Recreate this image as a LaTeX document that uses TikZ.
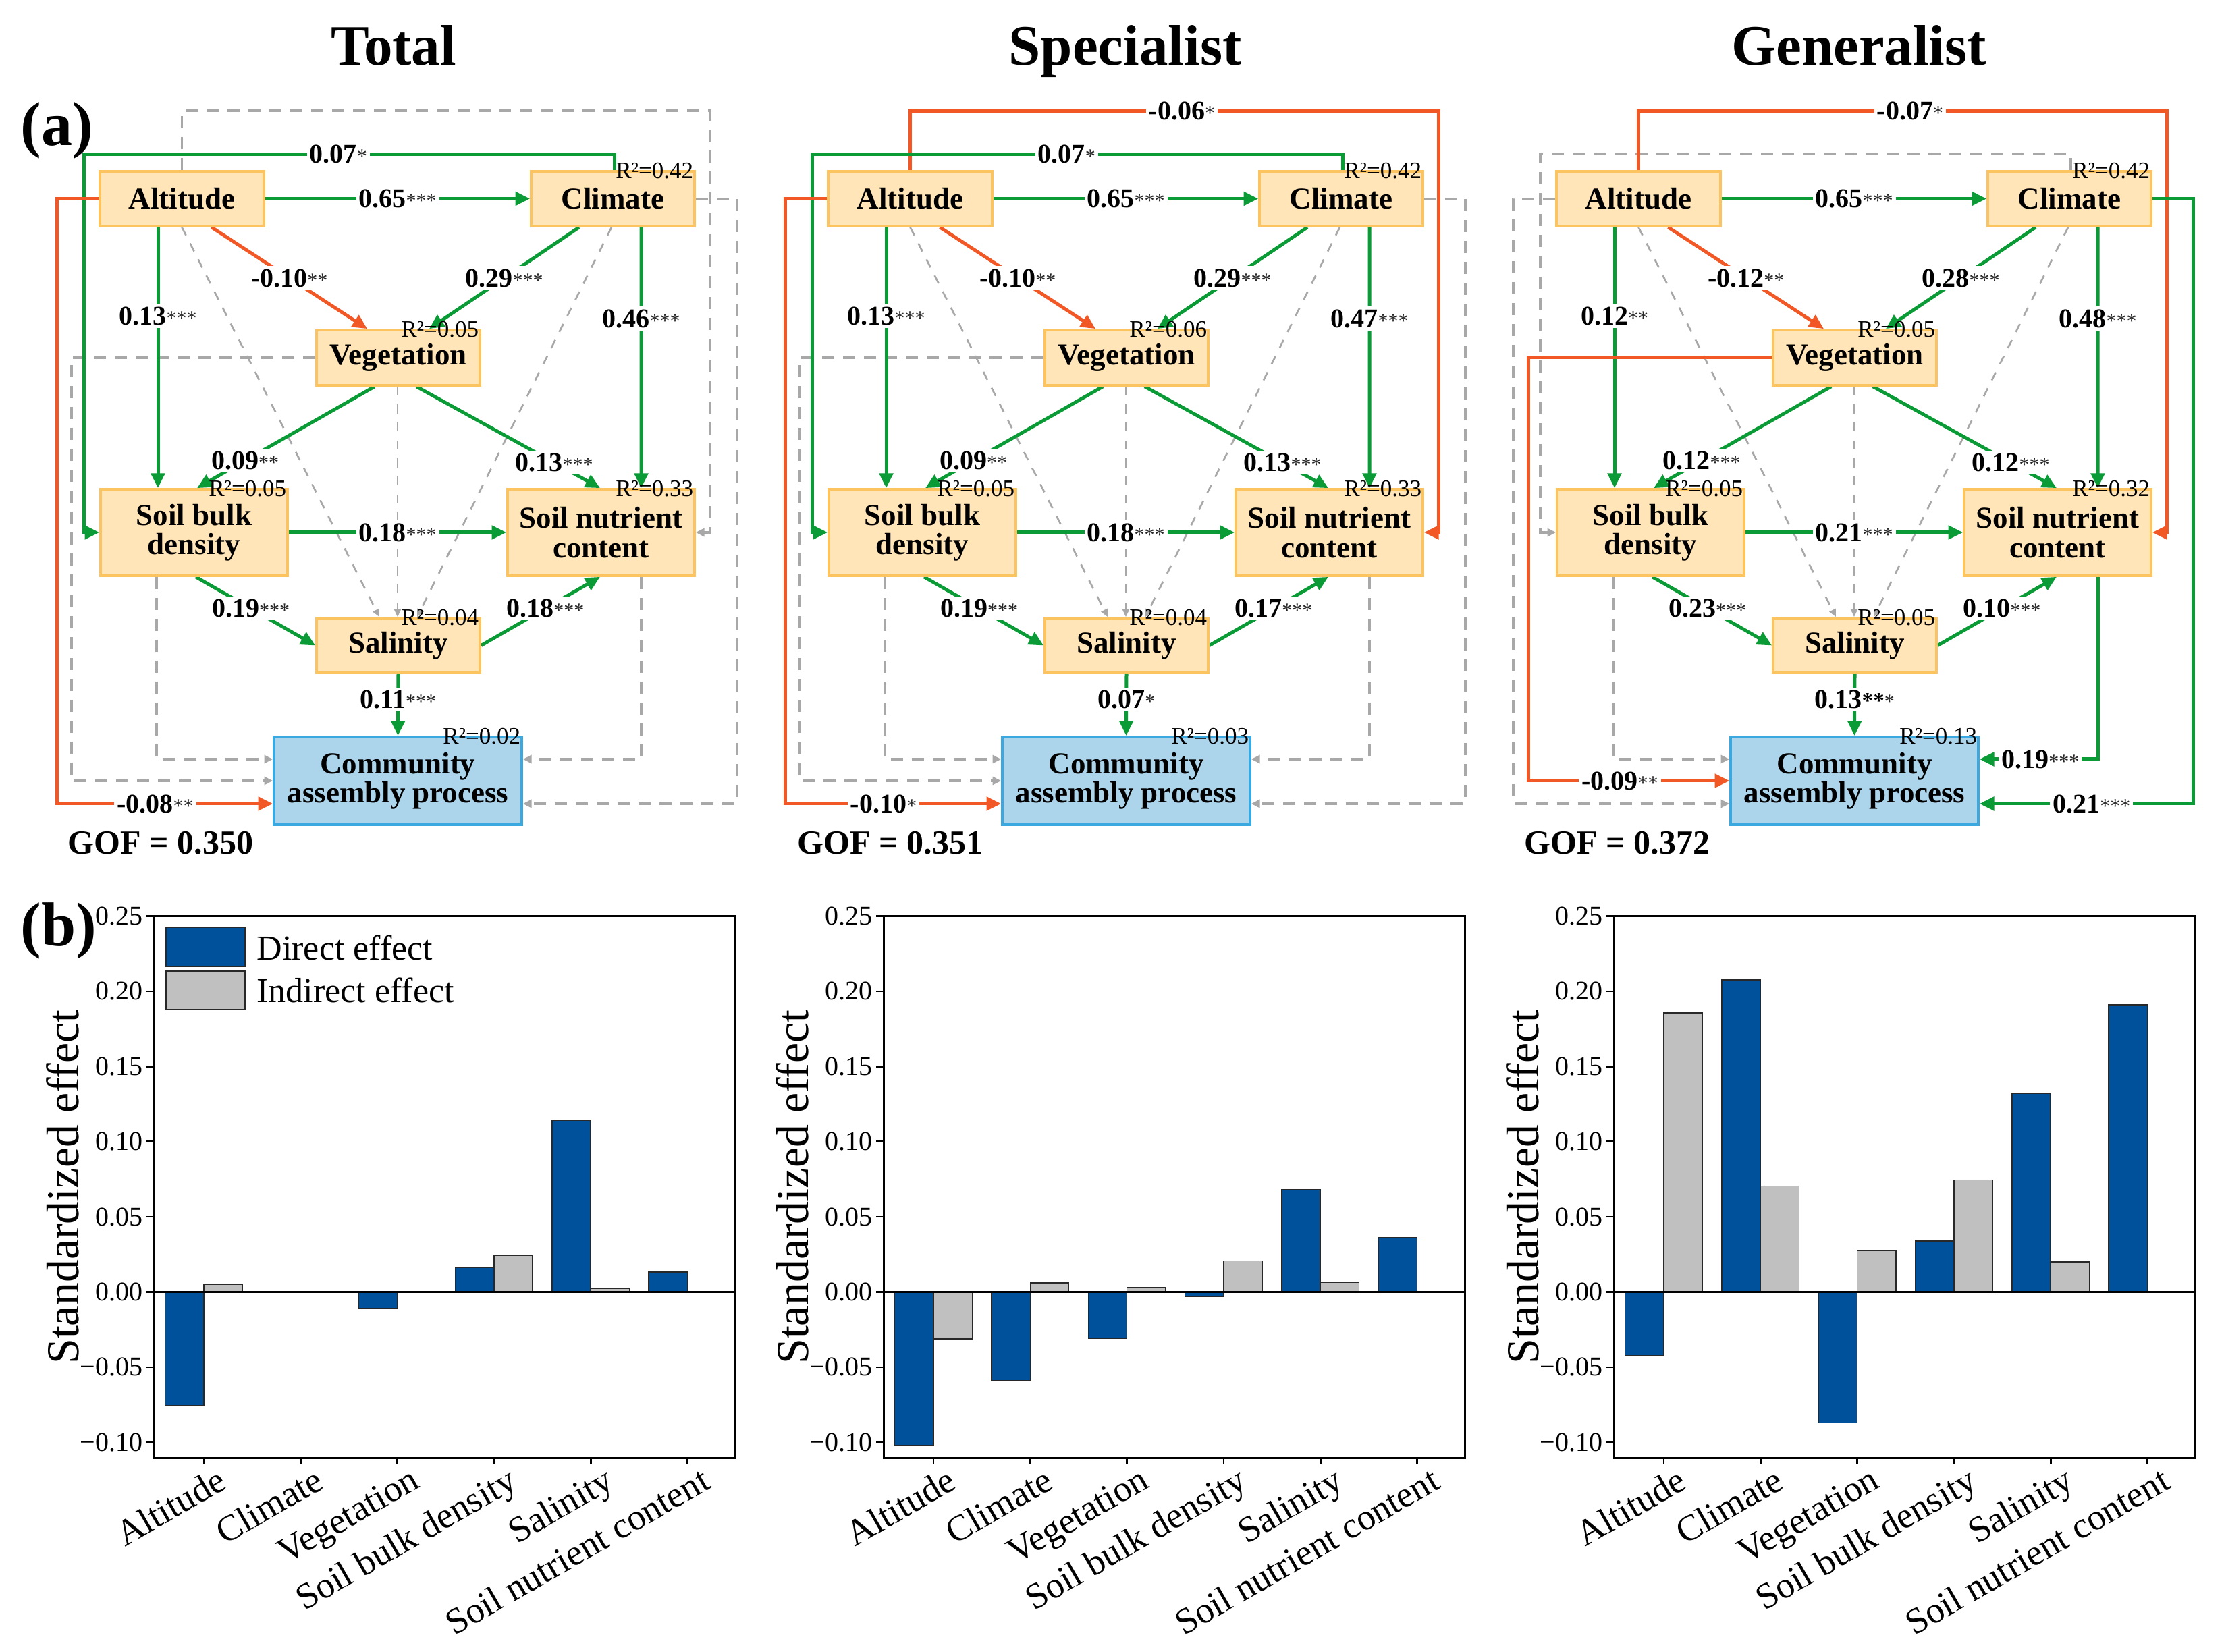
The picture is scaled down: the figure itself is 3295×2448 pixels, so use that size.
\documentclass[tikz,border=0pt]{standalone}
\usepackage{fontspec}
\setmainfont{Liberation Serif}
\usetikzlibrary{arrows.meta,calc}
\definecolor{grn}{RGB}{10,155,55}
\definecolor{org}{RGB}{242,88,38}
\definecolor{boxfill}{RGB}{255,229,183}
\definecolor{boxline}{RGB}{252,196,96}
\definecolor{capfill}{RGB}{172,213,236}
\definecolor{capline}{RGB}{59,168,224}
\definecolor{nsgray}{RGB}{168,168,168}
\definecolor{barblue}{RGB}{0,81,155}
\definecolor{bargray}{RGB}{192,192,192}
\definecolor{baredge}{RGB}{40,40,40}
\newcommand\myboxfont{\fontsize{13.5pt}{13pt}\selectfont\bfseries}
\newcommand\mylblfont{\fontsize{12pt}{12pt}\selectfont\bfseries}
\newcommand\myrfont{\fontsize{10.5pt}{10.5pt}\selectfont}
\newcommand\mytitlefont{\fontsize{25.5pt}{25.5pt}\selectfont\bfseries}
\newcommand\myletterfont{\fontsize{27.6pt}{27.6pt}\selectfont\bfseries}
\newcommand\mygoffont{\fontsize{15pt}{15pt}\selectfont\bfseries}
\newcommand\mytickfont{\fontsize{12pt}{12pt}\selectfont}
\newcommand\myxtfont{\fontsize{16.2pt}{16.2pt}\selectfont}
\newcommand\myylfont{\fontsize{20.4pt}{20.4pt}\selectfont}
\newcommand\mylegfont{\fontsize{15.6pt}{15.6pt}\selectfont}
\newcommand\sigst[1]{{\fontsize{9pt}{9pt}\selectfont\mdseries\color{black!85}#1}}
\pgfdeclarelayer{bg}
\pgfdeclarelayer{edges}
\pgfsetlayers{bg,edges,main}
\tikzset{
 semb/.style={draw=boxline, fill=boxfill, line width=1.1pt, font=\myboxfont, align=center, inner sep=0pt},
 gline/.style={draw=grn, line width=1.5pt, -{Triangle[length=6.5pt,width=6pt]}},
 oline/.style={draw=org, line width=1.5pt, -{Triangle[length=6.5pt,width=6pt]}},
 nsline/.style={draw=nsgray, line width=1.1pt, dash pattern=on 5.4pt off 3.9pt, -{Triangle[length=3.8pt,width=3.6pt]}},
 nsdiag/.style={draw=nsgray, line width=0.8pt, dash pattern=on 4pt off 4pt, -{Triangle[length=3.4pt,width=3pt]}},
 lbl/.style={fill=white, inner sep=1.2pt, font=\mylblfont},
 rtwo/.style={anchor=base east, font=\myrfont, inner sep=0pt},
}
% boxes of one panel
\newcommand\sembox[8]{%
 \node[semb, minimum width=72.9pt, minimum height=24.3pt] (#1-alt) at ({269.5+#2},294.5) {Altitude};
 \node[semb, minimum width=72.6pt, minimum height=24.3pt] (#1-cli) at ({908+#2},294.5) {Climate};
 \node[semb, minimum width=72.6pt, minimum height=24.6pt] (#1-veg) at ({590+#2},530) {Vegetation};
 \node[semb, minimum width=83.1pt, minimum height=38.4pt] (#1-sbd) at ({287.5+#2},789) {Soil bulk\\density};
 \node[semb, minimum width=83.1pt, minimum height=38.4pt] (#1-snc) at ({890.5+#2},789) {Soil nutrient\\content};
 \node[semb, minimum width=72.6pt, minimum height=24.3pt] (#1-sal) at ({590+#2},956.5) {Salinity};
 \node[semb, draw=capline, fill=capfill, minimum width=110.1pt, minimum height=39pt] (#1-cap) at ({589.5+#2},1157) {Community\\assembly process};
 \node[rtwo] (#1-rcli) at ($(#1-cli.north east)+(-3,12)$) {R²=#3};
 \node[rtwo] (#1-rveg) at ($(#1-veg.north east)+(-3,12)$) {R²=#4};
 \node[rtwo] (#1-rsbd) at ($(#1-sbd.north east)+(-3,12)$) {R²=#5};
 \node[rtwo] (#1-rsnc) at ($(#1-snc.north east)+(-3,12)$) {R²=#6};
 \node[rtwo] (#1-rsal) at ($(#1-sal.north east)+(-3,12)$) {R²=#7};
 \node[rtwo] (#1-rcap) at ($(#1-cap.north east)+(-3,12)$) {R²=#8};
}
% edges: #1 panel prefix, #2 line style, #3 label node (or empty)
\newcommand\eAC[3]{\draw[#2] (#1-alt.east) -- #3 (#1-cli.west);}
\newcommand\eAV[3]{\draw[#2] ($(#1-alt.south)+(44,0)$) -- #3 ($(#1-veg.north)+(-46,0)$);}
\newcommand\eCV[3]{\draw[#2] ($(#1-cli.south)+(-50,0)$) -- #3 ($(#1-veg.north)+(46,0)$);}
\newcommand\eAB[3]{\draw[#2, nodes={pos=0.34}] ($(#1-alt.south)+(-35.5,0)$) -- #3 ($(#1-sbd.north)+(-53.5,0)$);}
\newcommand\eCN[3]{\draw[#2, nodes={pos=0.35}] ($(#1-cli.south)+(42,0)$) -- #3 ($(#1-snc.north)+(59.5,0)$);}
\newcommand\eVB[3]{\draw[#2, nodes={pos=0.73}] ($(#1-veg.south)+(-35,0)$) -- #3 ($(#1-sbd.north)+(4.5,0)$);}
\newcommand\eVN[3]{\draw[#2, nodes={pos=0.75}] ($(#1-veg.south)+(27,0)$) -- #3 ($(#1-snc.north)+(-1.5,0)$);}
\newcommand\eBN[3]{\draw[#2] (#1-sbd.east) -- #3 (#1-snc.west);}
\newcommand\eBS[3]{\draw[#2, nodes={pos=0.46}] ($(#1-sbd.south)+(2.5,0)$) -- #3 (#1-sal.west);}
\newcommand\eSN[3]{\draw[#2, nodes={pos=0.54}] (#1-sal.east) -- #3 ($(#1-snc.south)+(-1.5,0)$);}
\newcommand\eSP[3]{\draw[#2, nodes={pos=0.41}] (#1-sal.south) -- #3 (#1-cap.north);}
\newcommand\eCB[3]{\draw[#2, nodes={pos=0.52}] ($(#1-cli.north)+(2,0)$) -- ++(0,-24) -- #3 ++(-786,0) |- (#1-sbd.west);}
\newcommand\eAP[3]{\draw[#2, nodes={pos=0.728}] (#1-alt.west) -- ++(-62,0) |- #3 ($(#1-cap.west)+(0,34)$);}
\newcommand\eAN[3]{\draw[#2, nodes={pos=0.514}] (#1-alt.north) -- ++(0,-88) -- #3 ++(783,0) |- (#1-snc.east);}
\newcommand\eCP[3]{\draw[#2, nodes={pos=0.738}] (#1-cli.east) -- ++(61,0) |- #3 ($(#1-cap.east)+(0,34)$);}
\newcommand\eVP[3]{\draw[#2, nodes={pos=0.728}] (#1-veg.west) -- ++(-361,0) |- #3 (#1-cap.west);}
\newcommand\eBP[3]{\draw[#2, nodes={pos=0.75}] ($(#1-sbd.south)+(-55.5,0)$) |- #3 ($(#1-cap.west)+(0,-32)$);}
\newcommand\eNP[3]{\draw[#2, nodes={pos=0.743}] ($(#1-snc.south)+(59.5,0)$) |- #3 ($(#1-cap.east)+(0,-32)$);}
\newcommand\eVS[1]{\draw[nsdiag] ($(#1-veg.south)+(-1,0)$) -- ($(#1-sal.north)+(-1,0)$);}
\newcommand\eAS[1]{\draw[nsdiag] (#1-alt.south) -- ($(#1-sal.north)+(-28,0)$);}
\newcommand\eCS[1]{\draw[nsdiag] ($(#1-cli.south)+(-2,0)$) -- ($(#1-sal.north)+(28,0)$);}
% bar chart
\newcommand\barchart[4]{%
 \foreach \i/\v in {#3} {\filldraw[fill=barblue, draw=baredge, line width=0.45pt] ({302+#2+143.3*\i-57.3},1914.5) rectangle ({302+#2+143.3*\i},{1914.5-2228*(\v)});}
 \foreach \i/\v in {#4} {\filldraw[fill=bargray, draw=baredge, line width=0.45pt] ({302+#2+143.3*\i},1914.5) rectangle ({302+#2+143.3*\i+57.3},{1914.5-2228*(\v)});}
 \draw[line width=0.9pt] ({228.5+#2},1914.5) -- ({1089.5+#2},1914.5);
 \draw[line width=0.9pt] ({228.5+#2},1357.5) rectangle ({1089.5+#2},2160.7);
 \foreach \v/\t [count=\k] in {0.25/0.25,0.20/0.20,0.15/0.15,0.10/0.10,0.05/0.05,0/0.00,-0.05/−0.05,-0.10/−0.10} {
   \draw[line width=0.8pt] ({228.5+#2},{1914.5-2228*(\v)}) -- ++(-12,0);
   \node[anchor=east, font=\mytickfont, inner sep=0pt] (#1-yt\k) at ({212+#2},{1914.5-2228*(\v)}) {\t};
 }
 \foreach \n [count=\k from 0] in {Altitude,Climate,Vegetation,Soil bulk density,Salinity,Soil nutrient content} {
   \draw[line width=0.8pt] ({302+#2+143.3*\k},2160.7) -- ++(0,9);
   \node[anchor=north east, rotate=30, font=\myxtfont, inner sep=0pt] (#1-xt\k) at ({302+#2+143.3*\k+18},2171) {\n};
 }
 \node[rotate=90, font=\myylfont, inner sep=0pt] (#1-ylab) at ({93+#2},1759) {Standardized effect};
}
\begin{document}
\begin{tikzpicture}[x=0.3pt,y=-0.3pt]
\begin{pgfonlayer}{bg}
\fill[white] (0,0) rectangle (3295,2448);
\end{pgfonlayer}
\useasboundingbox (0,0) rectangle (3295,2448);
% titles
\node[anchor=base, font=\mytitlefont, inner sep=0pt] (ttl-t) at (583,97) {Total};
\node[anchor=base, font=\mytitlefont, inner sep=0pt] (ttl-s) at (1667,97) {Specialist};
\node[anchor=base, font=\mytitlefont, inner sep=0pt] (ttl-g) at (2754,97) {Generalist};
\node[anchor=base west, font=\myletterfont, inner sep=0pt] (lab-a) at (30,216) {(a)};
\node[anchor=base west, font=\myletterfont, inner sep=0pt] (lab-b) at (30,1402) {(b)};
% boxes
\sembox{t}{0}{0.42}{0.05}{0.05}{0.33}{0.04}{0.02}
\sembox{s}{1079}{0.42}{0.06}{0.05}{0.33}{0.04}{0.03}
\sembox{g}{2158}{0.42}{0.05}{0.05}{0.32}{0.05}{0.13}
\node[anchor=base west, font=\mygoffont, inner sep=0pt] (gof-t) at (100,1266) {GOF = 0.350};
\node[anchor=base west, font=\mygoffont, inner sep=0pt] (gof-s) at (1181,1266) {GOF = 0.351};
\node[anchor=base west, font=\mygoffont, inner sep=0pt] (gof-g) at (2258,1266) {GOF = 0.372};
\begin{pgfonlayer}{edges}
% ---- Total
\eAN{t}{nsline}{}
\eCP{t}{nsline}{}
\eVP{t}{nsline}{}
\eBP{t}{nsline}{}
\eNP{t}{nsline}{}
\eVS{t}\eAS{t}\eCS{t}
\eAC{t}{gline}{node[lbl]{0.65\sigst{***}}}
\eAV{t}{oline}{node[lbl]{-0.10\sigst{**}}}
\eCV{t}{gline}{node[lbl]{0.29\sigst{***}}}
\eAB{t}{gline}{node[lbl]{0.13\sigst{***}}}
\eCN{t}{gline}{node[lbl]{0.46\sigst{***}}}
\eVB{t}{gline}{node[lbl]{0.09\sigst{**}}}
\eVN{t}{gline}{node[lbl]{0.13\sigst{***}}}
\eBN{t}{gline}{node[lbl]{0.18\sigst{***}}}
\eBS{t}{gline}{node[lbl]{0.19\sigst{***}}}
\eSN{t}{gline}{node[lbl]{0.18\sigst{***}}}
\eSP{t}{gline}{node[lbl]{0.11\sigst{***}}}
\eCB{t}{gline}{node[lbl]{0.07\sigst{*}}}
\eAP{t}{oline}{node[lbl]{-0.08\sigst{**}}}
% ---- Specialist
\eCP{s}{nsline}{}
\eVP{s}{nsline}{}
\eBP{s}{nsline}{}
\eNP{s}{nsline}{}
\eVS{s}\eAS{s}\eCS{s}
\eAN{s}{oline}{node[lbl]{-0.06\sigst{*}}}
\eAC{s}{gline}{node[lbl]{0.65\sigst{***}}}
\eAV{s}{oline}{node[lbl]{-0.10\sigst{**}}}
\eCV{s}{gline}{node[lbl]{0.29\sigst{***}}}
\eAB{s}{gline}{node[lbl]{0.13\sigst{***}}}
\eCN{s}{gline}{node[lbl]{0.47\sigst{***}}}
\eVB{s}{gline}{node[lbl]{0.09\sigst{**}}}
\eVN{s}{gline}{node[lbl]{0.13\sigst{***}}}
\eBN{s}{gline}{node[lbl]{0.18\sigst{***}}}
\eBS{s}{gline}{node[lbl]{0.19\sigst{***}}}
\eSN{s}{gline}{node[lbl]{0.17\sigst{***}}}
\eSP{s}{gline}{node[lbl]{0.07\sigst{*}}}
\eCB{s}{gline}{node[lbl]{0.07\sigst{*}}}
\eAP{s}{oline}{node[lbl]{-0.10\sigst{*}}}
% ---- Generalist
\eCB{g}{nsline}{}
\eAP{g}{nsline}{}
\eBP{g}{nsline}{}
\eVS{g}\eAS{g}\eCS{g}
\eAN{g}{oline}{node[lbl]{-0.07\sigst{*}}}
\eAC{g}{gline}{node[lbl]{0.65\sigst{***}}}
\eAV{g}{oline}{node[lbl]{-0.12\sigst{**}}}
\eCV{g}{gline}{node[lbl]{0.28\sigst{***}}}
\eAB{g}{gline}{node[lbl]{0.12\sigst{**}}}
\eCN{g}{gline}{node[lbl]{0.48\sigst{***}}}
\eVB{g}{gline}{node[lbl]{0.12\sigst{***}}}
\eVN{g}{gline}{node[lbl]{0.12\sigst{***}}}
\eBN{g}{gline}{node[lbl]{0.21\sigst{***}}}
\eBS{g}{gline}{node[lbl]{0.23\sigst{***}}}
\eSN{g}{gline}{node[lbl]{0.10\sigst{***}}}
\eSP{g}{gline}{node[lbl]{0.13{\fontsize{10pt}{10pt}\selectfont **}\sigst{*}}}
\eVP{g}{oline}{node[lbl]{-0.09\sigst{**}}}
\eCP{g}{gline}{node[lbl]{0.21\sigst{***}}}
\eNP{g}{gline}{node[lbl]{0.19\sigst{***}}}
\end{pgfonlayer}
% ---- bar charts
\barchart{bt}{0}{0/-0.0756,2/-0.0111,3/0.0162,4/0.1143,5/0.0133}{0/0.0051,3/0.0244,4/0.0025}
\barchart{bs}{1081}{0/-0.1019,1/-0.0587,2/-0.0308,3/-0.0032,4/0.068,5/0.0362}{0/-0.0311,1/0.006,2/0.0029,3/0.0206,4/0.0063}
\barchart{bg}{2163}{0/-0.0422,1/0.2076,2/-0.087,3/0.034,4/0.132,5/0.191}{0/0.1857,1/0.0705,2/0.0276,3/0.0746,4/0.020}
% legend
\filldraw[fill=barblue, draw=baredge, line width=0.45pt] (246,1374) rectangle (363,1432);
\filldraw[fill=bargray, draw=baredge, line width=0.45pt] (246,1439) rectangle (363,1496);
\node[anchor=west, font=\mylegfont, inner sep=0pt] (leg-d) at (380,1404) {Direct effect};
\node[anchor=west, font=\mylegfont, inner sep=0pt] (leg-i) at (380,1467) {Indirect effect};
\end{tikzpicture}
\end{document}
